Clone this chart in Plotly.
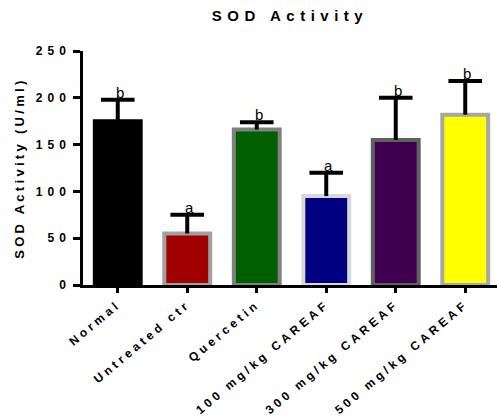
import plotly.graph_objects as go

categories = ["Normal", "Untreated ctr", "Quercetin", "100 mg/kg CAREAF", "300 mg/kg CAREAF", "500 mg/kg CAREAF"]
means = [175, 55, 166, 95, 155, 182]
sem = [23, 20, 8, 25, 45, 36]
letters = ["b", "a", "b", "a", "b", "b"]
fill_colors = ["#000000", "#a00000", "#006000", "#000080", "#400050", "#ffff00"]
border_colors = ["#000000", "#a0a0a0", "#808080", "#d8d8d8", "#606060", "#a6a6a6"]
y_ticks = [0, 50, 100, 150, 200, 250]

FONT = "Liberation Sans, Arial, sans-serif"
xpos = list(range(len(categories)))
tops = [m + s for m, s in zip(means, sem)]

fig = go.Figure()
fig.add_trace(go.Bar(
    x=xpos, y=means, width=0.66,
    marker=dict(color=fill_colors, line=dict(color=border_colors, width=4)),
    error_y=dict(type="data", array=sem, symmetric=False, arrayminus=[0]*len(sem),
                 color="black", thickness=4, width=0),
    showlegend=False,
))
# error-bar caps (upper end only)
fig.add_trace(go.Scatter(
    x=xpos, y=tops, mode="markers",
    marker=dict(symbol="line-ew", size=24, color="black", line=dict(color="black", width=4)),
    showlegend=False, hoverinfo="skip",
))

for i, (t, l) in enumerate(zip(tops, letters)):
    fig.add_annotation(x=i, y=t, text=l, showarrow=False, yanchor="bottom",
                       yshift=-3, xshift=2, font=dict(family=FONT, size=15, color="black"))

fig.add_annotation(xref="paper", yref="paper", x=0, y=0.5, xshift=-64.5, xanchor="center",
                   yanchor="middle",
                   text="<b>SOD Activity (U/ml)</b>", textangle=-90, showarrow=False,
                   font=dict(family=FONT, size=13, color="black"))

fig.update_layout(
    width=497, height=420,
    margin=dict(l=83, r=0, t=51, b=135),
    paper_bgcolor="white", plot_bgcolor="white",
    title=dict(text="<b>SOD Activity</b>", x=0.5, xref="paper", y=1 - 15.5/420, yanchor="middle",
               font=dict(family=FONT, size=15, color="black")),
    font=dict(family=FONT, color="black"),
    xaxis=dict(
        range=[-0.5, 5.457],
        tickmode="array", tickvals=xpos, ticktext=categories,
        tickangle=-40, ticks="outside", ticklen=5, tickwidth=2.5, tickcolor="black",
        showline=True, linewidth=2.5, linecolor="black", showgrid=False, zeroline=False,
        tickfont=dict(family=FONT, size=12, color="black", weight="bold"),
    ),
    yaxis=dict(
        range=[0, 250], tickmode="array", tickvals=y_ticks,
        ticks="outside", ticklen=7, tickwidth=2.5, tickcolor="black",
        showline=True, linewidth=2.5, linecolor="black", showgrid=False, zeroline=False,
        tickfont=dict(family=FONT, size=12, color="black", weight="bold"),
    ),
)

post = """
var st = document.createElement('style');
st.textContent = 'body{margin:0;padding:0;} .xtick text {letter-spacing:3.6px;} .ytick text {letter-spacing:5px;} .gtitle {letter-spacing:5.5px;}';
document.head.appendChild(st);
document.querySelectorAll('.annotation-text').forEach(function(t){
  if (t.textContent.indexOf('SOD') >= 0) { t.style.letterSpacing = '3.3px'; }
});
"""

fig.write_html("out.html", post_script=post, config={"displayModeBar": False})
